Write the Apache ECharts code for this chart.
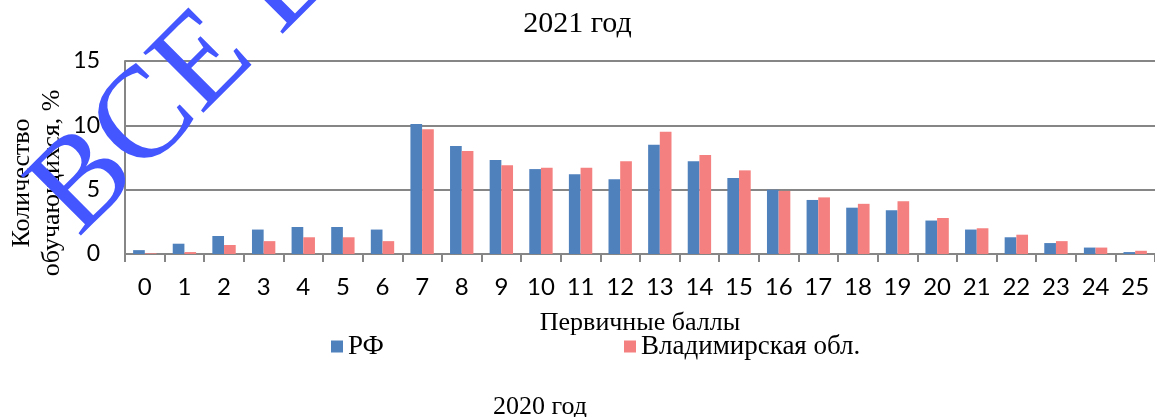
<!DOCTYPE html>
<html>
<head>
<meta charset="utf-8">
<script src="https://cdn.jsdelivr.net/npm/echarts@6/dist/echarts.min.js"></script>
<style>
  html, body { margin: 0; padding: 0; background: #fff; }
  #chart { width: 1155px; height: 417px; }
</style>
</head>
<body>
<div id="chart"></div>
<script>
// первичные баллы 0..25
let cate_data = ["0","1","2","3","4","5","6","7","8","9","10","11","12","13","14","15","16","17","18","19","20","21","22","23","24","25"];
// % обучающихся, РФ
let rf_data = [0.3,0.8,1.4,1.9,2.1,2.1,1.9,10.1,8.4,7.3,6.6,6.2,5.8,8.5,7.2,5.9,5.0,4.2,3.6,3.4,2.6,1.9,1.3,0.85,0.5,0.15];
// % обучающихся, Владимирская обл.
let vlad_data = [0.05,0.15,0.7,1.0,1.3,1.3,1.0,9.7,8.0,6.9,6.7,6.7,7.2,9.5,7.7,6.5,4.9,4.4,3.9,4.1,2.8,2.0,1.5,1.0,0.5,0.25];
let y_ticks = [0, 5, 10, 15];

let series_names = ["РФ", "Владимирская обл."];
let title_text = "2021 год";
let next_title = "2020 год";

var serif = "'Liberation Serif', 'Times New Roman', serif";
var sans = "Lato, 'Open Sans', sans-serif";
var gray = "#868686";

let bar = echarts.init(document.getElementById("chart"));

let option = {
  animation: false,
  title: {
    text: title_text,
    left: "center",
    top: 4,
    textStyle: { fontFamily: serif, fontWeight: "normal", fontSize: 30, color: "#000" },
  },
  legend: [
    {
      data: [series_names[0]],
      left: 326,
      top: 328,
      icon: "rect",
      itemWidth: 12,
      itemHeight: 12,
      textStyle: { fontFamily: serif, fontSize: 27, color: "#000" },
    },
    {
      data: [series_names[1]],
      left: 619,
      top: 328,
      icon: "rect",
      itemWidth: 12,
      itemHeight: 12,
      textStyle: { fontFamily: serif, fontSize: 27, color: "#000" },
    },
  ],
  grid: {
    left: 125,
    top: 61,
    width: 1036,
    height: 193,
    containLabel: false,
  },
  xAxis: {
    type: "category",
    data: cate_data,
    axisLine: { lineStyle: { color: gray, width: 2 } },
    axisTick: { show: true, length: 8, lineStyle: { color: gray, width: 2 } },
    axisLabel: { color: "#000", fontFamily: sans, fontSize: 24, margin: 21, interval: 0 },
    name: "Первичные баллы",
    nameLocation: "middle",
    nameGap: 56,
    nameTextStyle: { fontFamily: serif, fontSize: 26, color: "#000" },
  },
  yAxis: {
    type: "value",
    min: y_ticks[0],
    max: y_ticks[y_ticks.length - 1],
    interval: 5,
    axisLine: { show: true, lineStyle: { color: gray, width: 2 } },
    axisTick: { show: false },
    splitLine: { lineStyle: { color: gray, width: 2 } },
    axisLabel: { color: "#000", fontFamily: sans, fontSize: 23, margin: 25 },
  },
  series: [
    {
      name: series_names[0],
      type: "bar",
      data: rf_data,
      barGap: "0%",
      barCategoryGap: "41%",
      itemStyle: { color: "#4F81BD" },
    },
    {
      name: series_names[1],
      type: "bar",
      data: vlad_data,
      itemStyle: { color: "#F4817F" },
    },
  ],
  graphic: [
    {
      // подпись оси Y, два ряда
      type: "text",
      x: 37,
      y: 183,
      rotation: Math.PI / 2,
      style: {
        text: "Количество\nобучающихся, %",
        font: "26px " + serif,
        fill: "#000",
        align: "center",
        verticalAlign: "middle",
        lineHeight: 30,
      },
    },
    {
      // заголовок следующего графика, обрезан снизу
      type: "text",
      x: 540,
      y: 394,
      style: { text: next_title, font: "26px " + serif, fill: "#000", align: "center" },
    },
    {
      // водяной знак
      type: "text",
      x: 100,
      y: 260,
      rotation: Math.PI / 4,
      z: 100,
      style: {
        text: "ВСЕ ЕГЭ",
        fontSize: 130,
        fontFamily: serif,
        fill: "#4356FF",
        align: "left",
        verticalAlign: "bottom",
      },
    },
  ],
};

bar.setOption(option);
</script>
</body>
</html>
